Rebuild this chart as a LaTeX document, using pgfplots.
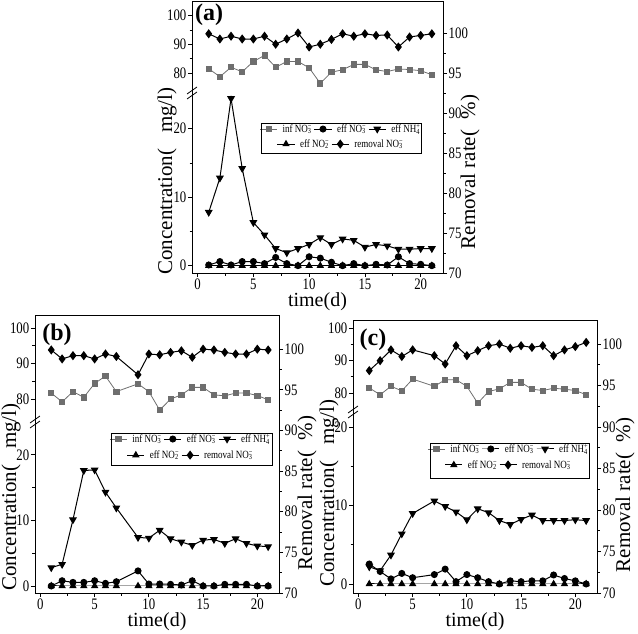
\documentclass[border=0pt]{standalone}
\usepackage{pgfplots}
\pgfplotsset{compat=1.18}
\usepackage{fontspec}
\setmainfont{Liberation Serif}
\newfontfamily\tickfont[FakeStretch=0.8]{Liberation Serif}
\newfontfamily\legfont[FakeStretch=0.82]{Liberation Serif}
\newcommand\ion[2]{\rlap{\textsubscript{#1}}\textsuperscript{#2}}
\definecolor{infgray}{HTML}{6E6E6E}
\pgfplotsset{
  every axis/.append style={scale only axis, xmin=-0.5, xmax=22, tick align=outside,
    major tick length=4pt, minor tick length=2.5pt,
    /pgf/number format/assume math mode=true,
    tick label style={font=\tickfont\fontsize{16}{16}\selectfont, inner sep=1.5pt},
    label style={font=\fontsize{20}{20}\selectfont},
    axis line style={line width=0.9pt},
    every tick/.append style={line width=0.8pt, black}},
  infS/.style={color=infgray, line width=0.8pt, mark=square*, mark size=2.6pt, mark options={solid, fill=infgray}},
  no3S/.style={black, line width=1pt, mark=*, mark size=3pt},
  nh4S/.style={black, line width=1pt, mark=triangle*, mark size=3.6pt, mark options={rotate=180}},
  no2S/.style={black, line width=1pt, mark=triangle*, mark size=3.3pt},
  remS/.style={black, line width=1pt, mark=diamond*, mark size=3.8pt},
  legS/.style={legend style={draw=none, fill=none, anchor=center, legend columns=-1,
     font=\legfont\fontsize{11}{12}\selectfont, inner sep=0pt,
     /tikz/every even column/.append style={column sep=0pt},
     /tikz/every odd column/.append style={column sep=3pt}}},
  upS/.style={axis x line=none, axis y line*=left, ytick={80,90,100}, minor y tick num=1},
  loS/.style={axis x line*=bottom, axis y line*=left, ytick={0,10,20}, minor y tick num=1,
     xtick={0,5,10,15,20}, minor x tick num=1, xlabel={time(d)}, xlabel style={yshift=2pt}},
  riS/.style={xtick=\empty, ytick={70,75,80,85,90,95,100}, minor y tick num=1, ytick pos=right, yticklabel pos=right},
}
\begin{document}
\begin{tikzpicture}[x=1pt,y=1pt]
\useasboundingbox (0,0) rectangle (638,-634);
% ================= panel (a) =================
\begin{axis}[upS, at={(192pt,-91pt)}, anchor=south west, width=251pt, height=90pt, ymin=73.85, ymax=105.1]
\addplot[infS] coordinates {(1,81.6)(2,78.8)(3,82.1)(4,80.5)(5,84.1)(6,86.2)(7,82.1)(8,84.1)(9,84.1)(10,81.9)(11,76.5)(12,80.4)(13,81.2)(14,83.1)(15,83.1)(16,81.2)(17,80.6)(18,81.5)(19,81.3)(20,80.9)(21,79.5)};
\end{axis}
\begin{axis}[loS, legS, at={(192pt,-273pt)}, anchor=south west, width=251pt, height=182pt, ymin=-1.07, ymax=25.5,
  legend style={at={(rel axis cs:0.594,0.791)}}]
\addlegendimage{infS}\addlegendentry{inf NO\ion{3}{−}}
\addplot[no3S] coordinates {(1,0.1)(2,0.6)(3,0.1)(4,0.6)(5,0.6)(6,0.3)(7,1.2)(8,0.3)(9,0)(10,1.3)(11,1.1)(12,0.5)(13,0)(14,0.3)(15,0)(16,0.2)(17,0.1)(18,1.3)(19,0.3)(20,0.2)(21,0)};
\addlegendentry{eff NO\ion{3}{−}}
\addplot[nh4S] coordinates {(1,7.8)(2,12.8)(3,24.4)(4,14.2)(5,6.3)(6,4.5)(7,2.5)(8,1.9)(9,2.5)(10,3.1)(11,4.1)(12,3.1)(13,3.9)(14,3.7)(15,2.7)(16,3.1)(17,2.9)(18,2.4)(19,2.4)(20,2.5)(21,2.5)};
\addlegendentry{eff NH\ion{4}{+}}
\addplot[no2S, forget plot] coordinates {(1,0)(2,0)(3,0)(4,0)(5,0)(6,0)(7,0)(8,0)(9,0)(10,0)(11,0)(12,0)(13,0)(14,0)(15,0)(16,0)(17,0)(18,0)(19,0)(20,0)(21,0)};
\end{axis}
\begin{axis}[riS, legS, at={(192pt,-273pt)}, anchor=south west, width=251pt, height=272pt, ymin=70, ymax=104,
  legend style={at={(rel axis cs:0.594,0.474)}}]
\addlegendimage{no2S}\addlegendentry{eff NO\ion{2}{−}}
\addplot[remS] coordinates {(1,99.9)(2,99.25)(3,99.6)(4,99.25)(5,99.25)(6,99.6)(7,98.6)(8,99.25)(9,100)(10,98.25)(11,98.6)(12,99.2)(13,99.9)(14,99.6)(15,99.9)(16,99.7)(17,99.75)(18,98.25)(19,99.5)(20,99.7)(21,99.9)};
\addlegendentry{removal NO\ion{3}{−}}
\end{axis}
\draw[line width=0.6pt] (261,-123) rectangle (421,-153);
\draw[line width=0.8pt] (187,-94) -- (197,-87) (187,-99) -- (197,-92);
\node[font=\fontsize{24}{24}\selectfont\bfseries] at (209,-15) {(a)};
\node[rotate=90, font=\fontsize{21}{21}\selectfont] at (167,-181) {Concentration(\ \ \ mg/l)};
\node[rotate=90, font=\fontsize{21}{21}\selectfont] at (470,-172) {Removal rate(\ \ \%)};
% ================= panel (b) =================
\begin{axis}[upS, at={(35pt,-420pt)}, anchor=south west, width=244pt, height=105pt, ymin=74.1, ymax=103.7]
\addplot[infS] coordinates {(1,81.7)(2,79.2)(3,82.1)(4,80.5)(5,84.4)(6,86.5)(7,82.1)(9,84.3)(10,82.1)(11,76.9)(12,80)(13,81.2)(14,83.3)(15,83.3)(16,81.2)(17,80.9)(18,81.7)(19,81.7)(20,81)(21,79.8)};
\end{axis}
\begin{axis}[loS, legS, at={(35pt,-593pt)}, anchor=south west, width=244pt, height=173pt, ymin=-1.07, ymax=25.3,
  legend style={at={(rel axis cs:0.639,0.89)}}]
\addlegendimage{infS}\addlegendentry{inf NO\ion{3}{−}}
\addplot[no3S] coordinates {(1,0)(2,0.8)(3,0.55)(4,0.55)(5,0.8)(6,0.4)(7,0.65)(9,2.3)(10,0.3)(11,0.3)(12,0.25)(13,0.15)(14,0.8)(15,0)(16,0)(17,0.25)(18,0.25)(19,0.25)(20,0)(21,0)};
\addlegendentry{eff NO\ion{3}{−}}
\addplot[nh4S] coordinates {(1,2.8)(2,3.3)(3,10.1)(4,17.6)(5,17.7)(6,14.3)(7,11.9)(9,7.4)(10,7.3)(11,8.5)(12,7.2)(13,6.7)(14,6.2)(15,7.0)(16,7.1)(17,6.5)(18,7.2)(19,6.5)(20,6.1)(21,6.0)};
\addlegendentry{eff NH\ion{4}{+}}
\addplot[no2S, forget plot] coordinates {(1,0)(2,0)(3,0)(4,0)(5,0)(6,0)(7,0)(9,0)(10,0)(11,0)(12,0)(13,0)(14,0)(15,0)(16,0)(17,0)(18,0)(19,0)(20,0)(21,0)};
\end{axis}
\begin{axis}[riS, legS, at={(35pt,-593pt)}, anchor=south west, width=244pt, height=278pt, ymin=70, ymax=104.2,
  legend style={at={(rel axis cs:0.639,0.496)}}]
\addlegendimage{no2S}\addlegendentry{eff NO\ion{2}{−}}
\addplot[remS] coordinates {(1,99.9)(2,98.8)(3,99.2)(4,99.2)(5,98.8)(6,99.4)(7,99.1)(9,96.85)(10,99.4)(11,99.3)(12,99.6)(13,99.8)(14,99.0)(15,100)(16,99.9)(17,99.6)(18,99.4)(19,99.4)(20,100)(21,99.9)};
\addlegendentry{removal NO\ion{3}{−}}
\end{axis}
\draw[line width=0.6pt] (111,-433) rectangle (272,-465);
\draw[line width=0.8pt] (30,-423) -- (40,-416) (30,-428) -- (40,-421);
\node[font=\fontsize{24}{24}\selectfont\bfseries] at (57,-335) {(b)};
\node[rotate=90, font=\fontsize{21}{21}\selectfont] at (11,-497) {Concentration(\ \ \ mg/l)};
\node[rotate=90, font=\fontsize{21}{21}\selectfont] at (307,-493) {Removal rate(\ \ \%)};
% ================= panel (c) =================
\begin{axis}[upS, at={(353pt,-410pt)}, anchor=south west, width=244pt, height=90pt, ymin=74.8, ymax=102.5]
\addplot[infS] coordinates {(1,81.6)(2,79.5)(3,82.1)(4,80.7)(5,84.3)(7,82.1)(8,84.1)(9,84.1)(10,82.1)(11,76.9)(12,80.5)(13,81.3)(14,83.3)(15,83.3)(16,81.2)(17,80.8)(18,81.5)(19,81.2)(20,80.8)(21,79.5)};
\end{axis}
\begin{axis}[loS, legS, at={(353pt,-593pt)}, anchor=south west, width=244pt, height=183pt, ymin=-1.15, ymax=22.2,
  legend style={at={(rel axis cs:0.639,0.787)}}]
\addlegendimage{infS}\addlegendentry{inf NO\ion{3}{−}}
\addplot[no3S] coordinates {(1,2.55)(2,1.6)(3,0.65)(4,1.35)(5,0.8)(7,1.2)(8,1.9)(9,0.3)(10,1.2)(11,0.8)(12,0.3)(13,0)(14,0.4)(15,0.3)(16,0.4)(17,0.4)(18,1.15)(19,0.7)(20,0.4)(21,0)};
\addlegendentry{eff NO\ion{3}{−}}
\addplot[nh4S] coordinates {(1,2.2)(2,1.7)(3,3.7)(4,6.4)(5,9.0)(7,10.6)(8,9.9)(9,9.2)(10,8.2)(11,9.6)(12,9.1)(13,8.1)(14,7.6)(15,8.25)(16,8.8)(17,8.1)(18,8.1)(19,8.1)(20,8.2)(21,8.1)};
\addlegendentry{eff NH\ion{4}{+}}
\addplot[no2S, forget plot] coordinates {(1,0)(2,0)(3,0)(4,0)(5,0)(7,0)(8,0)(9,0)(10,0)(11,0)(12,0)(13,0)(14,0)(15,0)(16,0)(17,0)(18,0)(19,0)(20,0)(21,0)};
\end{axis}
\begin{axis}[riS, legS, at={(353pt,-593pt)}, anchor=south west, width=244pt, height=273pt, ymin=70, ymax=102.9,
  legend style={at={(rel axis cs:0.639,0.469)}}]
\addlegendimage{no2S}\addlegendentry{eff NO\ion{2}{−}}
\addplot[remS] coordinates {(1,96.8)(2,98.0)(3,99.3)(4,98.5)(5,99.3)(7,98.6)(8,97.6)(9,99.8)(10,98.6)(11,99.2)(12,99.8)(13,100)(14,99.5)(15,99.8)(16,99.6)(17,99.8)(18,98.6)(19,99.3)(20,99.7)(21,100.2)};
\addlegendentry{removal NO\ion{3}{−}}
\end{axis}
\draw[line width=0.6pt] (430,-443) rectangle (589,-478);
\draw[line width=0.8pt] (348,-413) -- (358,-406) (348,-418) -- (358,-411);
\node[font=\fontsize{24}{24}\selectfont\bfseries] at (373,-340) {(c)};
\node[rotate=90, font=\fontsize{21}{21}\selectfont] at (329,-493) {Concentration(\ \ \ mg/l)};
\node[rotate=90, font=\fontsize{21}{21}\selectfont] at (625,-495) {Removal rate(\ \ \%)};
\end{tikzpicture}
\end{document}
